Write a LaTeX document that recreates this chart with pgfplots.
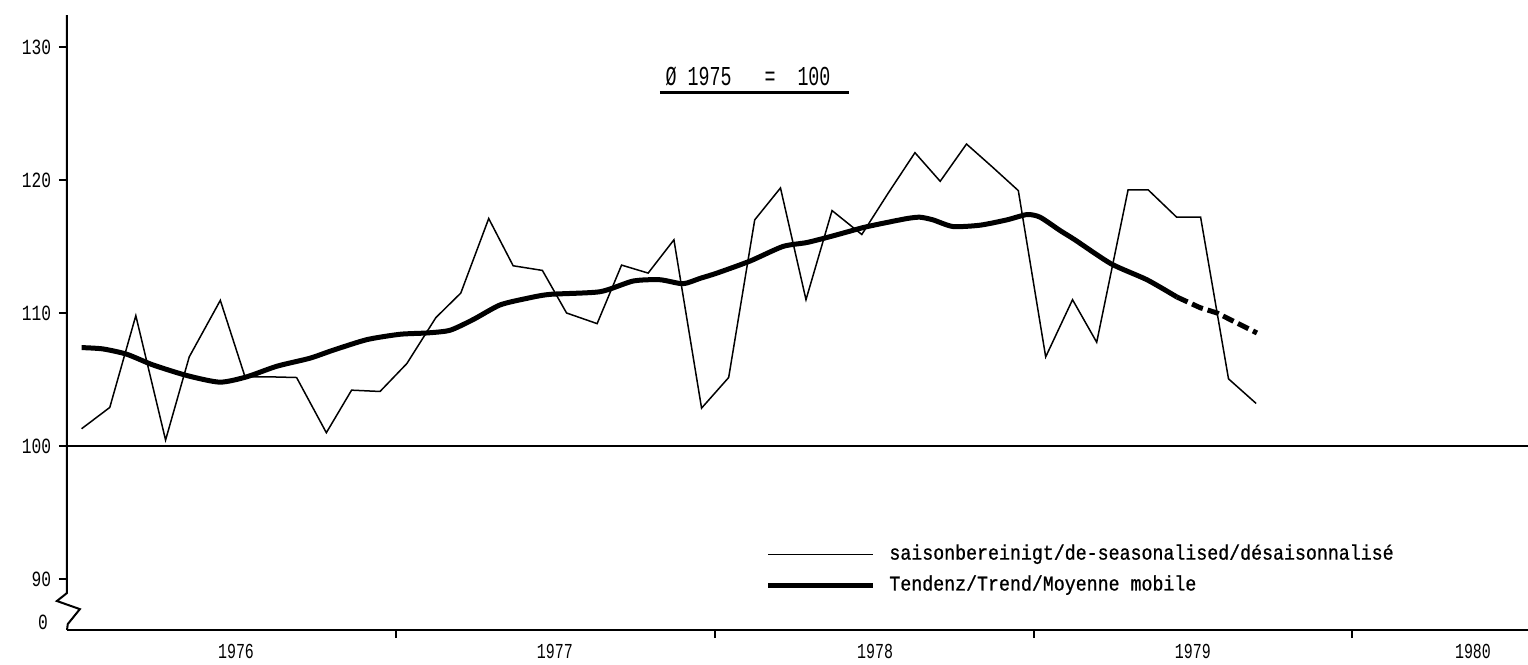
\documentclass[border=0pt]{standalone}
\usepackage{fontspec}
\setmainfont{Liberation Mono}
\newfontfamily\tcond[FakeStretch=0.75]{Liberation Mono}
\newfontfamily\tyear[FakeStretch=0.7]{Liberation Mono}
\newfontfamily\ttitle[FakeStretch=0.67]{Liberation Mono}
\newfontfamily\tlegend[FakeStretch=0.87,FakeBold=0.8]{Liberation Mono}
\usepackage{pgfplots}
\pgfplotsset{compat=1.18}
\begin{document}
\begin{tikzpicture}
\begin{axis}[
 name=ax,
 scale only axis, width=438.3pt, height=184.5pt,
 xmin=-0.83, xmax=54.15, ymin=86.17, ymax=132.4,
 axis x line*=bottom, axis y line*=left,
 y axis line style={draw=none},
 x axis line style={line width=0.6pt},
 clip=false,
 ytick={90,100,110,120,130},
 xtick={11.55,23.55,35.56,47.53},
 xticklabels={},
 extra x ticks={5.53,17.53,29.58,41.54,52.08},
 extra x tick labels={1976,1977,1978,1979,1980},
 extra x tick style={major tick length=0pt, xticklabel style={yshift=-0.8pt, font=\tyear\fontsize{6.4}{7}\selectfont}},
 extra y ticks={86.77}, extra y tick labels={0},
 extra y tick style={major tick length=0pt, yticklabel style={xshift=-3.4pt}},
 tick align=outside,
 major tick length=2.4pt,
 every tick/.style={black, line width=0.6pt},
 yticklabel style={font=\tcond\fontsize{6.5}{7}\selectfont, xshift=1.2pt},
 /pgf/number format/assume math mode=true,
 legend style={draw=none, fill=none, at={(0.4778,0.143)}, anchor=north west,
   font=\tlegend\fontsize{6.3}{7.2}\selectfont, row sep=2.2pt, column sep=3.6pt, inner sep=0pt,
   nodes={inner sep=0.5pt}},
 legend cell align=left,
 legend image code/.code={\draw[#1] (0pt,0pt) -- (31.5pt,0pt);},
]
% reference line at 100
\addplot[forget plot, black, line width=0.45pt] coordinates {(-0.83,100) (54.15,100)};
% seasonally adjusted series
\addplot[black, line width=0.45pt] coordinates {
(-0.28,101.3) (0.78,102.9) (1.76,109.8) (2.88,100.45) (3.77,106.7) (4.94,110.95)
(5.87,105.2) (6.81,105.2) (7.81,105.15) (8.93,101.0) (9.88,104.2) (10.95,104.1)
(11.96,106.2) (13.05,109.65) (13.99,111.5) (15.04,117.1) (15.96,113.55) (17.06,113.2)
(17.97,110.0) (19.12,109.2) (20.04,113.6) (21.04,113.0) (22.01,115.5) (23.05,102.85)
(24.07,105.15) (25.05,117.0) (26.02,119.4) (26.98,111.0) (27.96,117.7) (29.08,115.9)
(30.07,119.0) (31.08,122.05) (32.03,119.9) (33.02,122.7) (33.98,121.0) (34.97,119.2)
(36.0,106.7) (37.01,111.0) (37.92,107.8) (39.1,119.25) (39.86,119.25) (40.93,117.2)
(41.83,117.2) (42.88,105.05) (43.92,103.2)
};
\addlegendentry{saisonbereinigt/de-seasonalised/désaisonnalisé}
% trend
\addplot[black, line width=1.5pt, smooth, tension=0.4] coordinates {
(-0.28,107.4) (0.52,107.3) (1.42,106.9) (2.40,106.1) (3.68,105.3) (4.92,104.8)
(5.93,105.2) (7.07,106.0) (8.31,106.6) (9.18,107.2) (10.46,108.0) (11.70,108.4)
(12.72,108.5) (13.58,108.7) (14.45,109.5) (15.46,110.6) (16.48,111.1) (17.34,111.4)
(19.23,111.6) (20.47,112.4) (21.48,112.5) (22.35,112.2) (22.99,112.6) (23.63,113.0)
(24.87,113.9) (26.11,115.0) (27.02,115.3) (28.0,115.8) (29.09,116.4) (29.77,116.7)
(30.78,117.1) (31.27,117.2) (31.76,117.0) (32.51,116.5) (33.53,116.6) (34.54,117.0)
(35.30,117.4) (35.79,117.2) (36.54,116.2) (37.10,115.5) (38.46,113.7) (39.81,112.5)
(40.94,111.2)
};
\addlegendentry{Tendenz/Trend/Moyenne mobile}
\addplot[forget plot, black, line width=1.5pt, dash pattern=on 3.5pt off 1.5pt] coordinates {
(40.94,111.2) (41.81,110.4) (42.45,110.0) (43.95,108.5)
};
% broken y axis
\draw[line width=0.6pt] (axis cs:-0.83,132.4) -- (axis cs:-0.83,88.95) -- (axis cs:-1.21,88.35)
  -- (axis cs:-0.345,87.74) -- (axis cs:-0.80,86.62) -- (axis cs:-0.83,86.17);
% base note
\node[font=\ttitle\fontsize{8.2}{9}\selectfont, inner sep=0pt] at (axis cs:24.8,127.8) {Ø\ 1975\ \ \ =\ \ 100};
\draw[line width=0.9pt] (axis cs:21.48,126.54) -- (axis cs:28.6,126.54);
\end{axis}
\pgfresetboundingbox
\path (ax.south west) ++(-20.1pt,-10.2pt) rectangle ++(458.4pt,199.2pt);
\end{tikzpicture}
\end{document}
